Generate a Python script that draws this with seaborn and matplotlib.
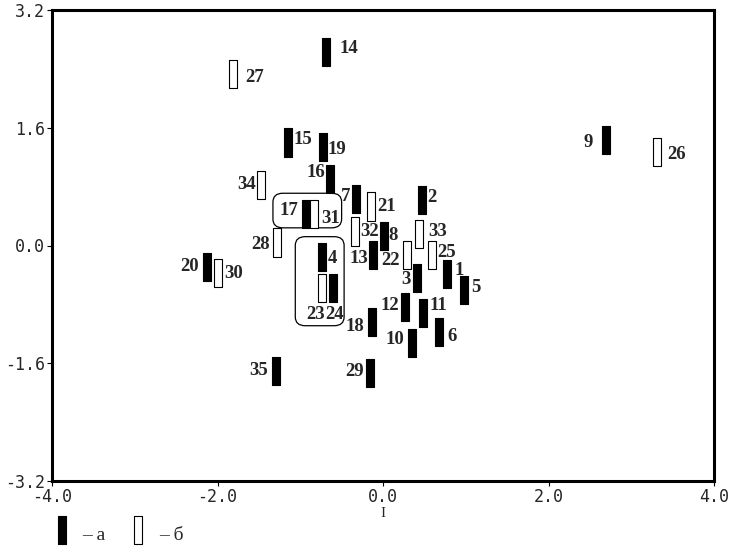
import matplotlib
matplotlib.use("Agg")
import matplotlib.pyplot as plt
from matplotlib.path import Path
from matplotlib.patches import FancyBboxPatch
from matplotlib.lines import Line2D
import pandas as pd
import seaborn as sns

# sample numbers, coordinates on components I / II, group (а - filled, б - open)
labels = [str(i) for i in range(1, 36)]
comp_x = [0.77, 0.47, 0.41, -0.74, 0.98, 0.68, -0.33, 0.01, 2.70, 0.35,
          0.48, 0.27, -0.12, -0.69, -1.15, -0.64, -0.93, -0.13, -0.73, -2.13,
          -0.14, 0.29, -0.74, -0.60, 0.59, 3.31, -1.81, -1.28, -0.16, -1.99,
          -0.83, -0.34, 0.44, -1.47, -1.29]
comp_y = [-0.39, 0.62, -0.44, -0.16, -0.61, -1.18, 0.63, 0.13, 1.43, -1.32,
          -0.92, -0.84, -0.13, 2.63, 1.40, 0.90, 0.43, -1.04, 1.34, -0.29,
          0.53, -0.13, -0.58, -0.58, -0.13, 1.27, 2.33, 0.04, -1.73, -0.37,
          0.43, 0.19, 0.16, 0.82, -1.71]
groups = ["а"] * 20 + ["б", "б", "б", "а", "б", "б", "б", "б", "а", "б",
                       "б", "б", "б", "б", "а"]

x_ticks = [-4.0, -2.0, 0.0, 2.0, 4.0]
y_ticks = [-3.2, -1.6, 0.0, 1.6, 3.2]

# label placement: (side, dx px, dy px) relative to the bar centre
label_pos = {
    "1": ("l", 8, -4), "2": ("l", 5, -2), "3": ("r", -6, 2), "4": ("l", 6, 1),
    "5": ("l", 7, -3), "6": ("l", 8, 4), "7": ("r", -5, -3), "8": ("l", 5, 0),
    "9": ("r", -14, 2), "10": ("r", -8, -3), "11": ("l", 7, -8), "12": ("r", -6, -2),
    "13": ("r", -5, 3), "14": ("l", 14, -3), "15": ("l", 6, -3), "16": ("r", -5, -7),
    "17": ("r", -8, -3), "18": ("r", -8, 4), "19": ("l", 5, 3), "20": ("r", -8, 0),
    "21": ("l", 6, 0), "22": ("r", -7, 5), "23": ("r", 3, 26), "24": ("l", -8, 26),
    "25": ("l", 5, -3), "26": ("l", 10, 2), "27": ("l", 12, 3), "28": ("r", -7, 2),
    "29": ("r", -6, -1), "30": ("l", 6, 1), "31": ("l", 7, 5), "32": ("l", 5, 0),
    "33": ("l", 9, -2), "34": ("r", -5, -1), "35": ("r", -8, -1),
}

df = pd.DataFrame({"x": comp_x, "y": comp_y, "group": groups, "label": labels})

sns.set_style("white")
plt.rcParams["axes.unicode_minus"] = False

bar = Path([(-0.143, -0.5), (0.143, -0.5), (0.143, 0.5), (-0.143, 0.5), (-0.143, -0.5)],
           [Path.MOVETO, Path.LINETO, Path.LINETO, Path.LINETO, Path.CLOSEPOLY])

fig = plt.figure(figsize=(7.33, 5.47), dpi=100)
ax = fig.add_axes([52 / 733, 66 / 547, 662 / 733, 471 / 547])

sns.scatterplot(data=df, x="x", y="y", hue="group", palette={"а": "black", "б": "white"},
                marker=bar, s=410, edgecolor="black", linewidth=0.8, legend=False,
                ax=ax, zorder=3)

for _, r in df.iterrows():
    side, dx, dy = label_pos[r["label"]]
    ax.annotate(r["label"], (r["x"], r["y"]), xytext=(dx * 0.72, -dy * 0.72),
                textcoords="offset points", ha="left" if side == "l" else "right",
                va="center", fontsize=13.5, fontweight="bold",
                family="Liberation Serif", zorder=4)

# rounded frames around the two groups
for x0, y0, w, h in [(-1.33, 0.24, 0.83, 0.47), (-1.06, -1.09, 0.59, 1.21)]:
    ax.add_patch(FancyBboxPatch((x0, y0), w, h, boxstyle="round,pad=0,rounding_size=0.12",
                                fill=False, edgecolor="black", linewidth=0.9, zorder=2))

ax.set_xlim(-4.0, 4.0)
ax.set_ylim(-3.2, 3.2)
ax.set_xticks(x_ticks)
ax.set_yticks(y_ticks)
ax.set_xticklabels([f"{v:.1f}" for v in x_ticks], family="DejaVu Sans Mono", fontsize=12)
ax.set_yticklabels([f"{v:.1f}" for v in y_ticks], family="DejaVu Sans Mono", fontsize=12)
ax.tick_params(direction="out", length=3.6, width=0.8, pad=1.5, color="black",
               bottom=True, left=True)
ax.set_xlabel("I", family="Liberation Serif", fontsize=11, labelpad=1)
ax.set_ylabel("")
for s in ax.spines.values():
    s.set_linewidth(2.2)
    s.set_color("black")

handles = [Line2D([], [], linestyle="none", marker=bar, markersize=20.8,
                  markerfacecolor=c, markeredgecolor="black", markeredgewidth=0.8)
           for c in ["black", "white"]]
fig.legend(handles, ["– а", "– б"], loc="lower left", bbox_to_anchor=(54 / 733, 1 / 547),
           ncol=2, frameon=False, borderpad=0, borderaxespad=0,
           handlelength=0.8, handleheight=1.6, handletextpad=0.65, columnspacing=1.3,
           prop={"family": "Liberation Serif", "size": 14})

fig.savefig("out.png", dpi=100)
